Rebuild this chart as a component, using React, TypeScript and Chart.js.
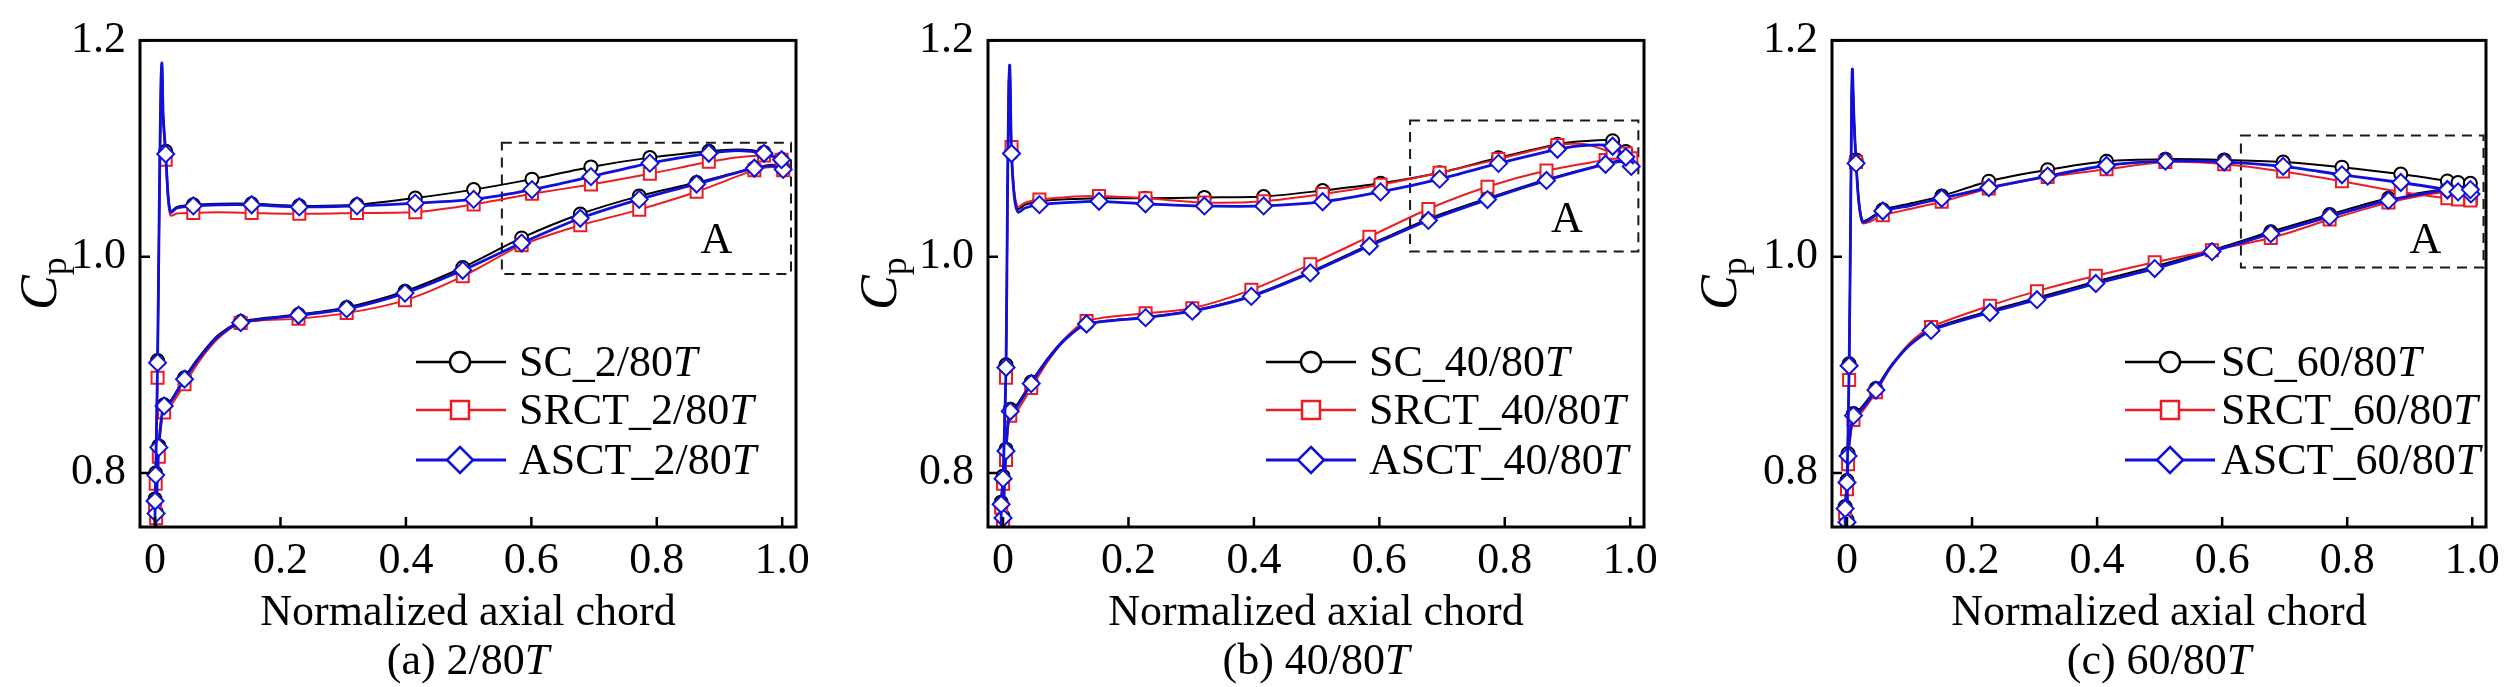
import React, { useEffect, useRef } from 'react';
import { Chart, registerables } from 'chart.js';

Chart.register(...registerables);

const SERIF = "'Liberation Serif', 'Times New Roman', serif";

// ---------- axes ----------
const X_TICKS = [0, 0.2, 0.4, 0.6, 0.8, 1.0];
const X_TICK_LABELS = ['0', '0.2', '0.4', '0.6', '0.8', '1.0'];
const Y_TICKS = [0.8, 1.0, 1.2];
const Y_TICK_LABELS = ['0.8', '1.0', '1.2'];
const X_RANGE = [-0.024, 1.022];
const Y_RANGE = [0.75, 1.2];
const X_TITLE = 'Normalized axial chord';
const Y_TITLE_MAIN = 'C';
const Y_TITLE_SUB = 'p';

// ---------- series ----------
const SERIES_NAMES = ['SC', 'SRCT', 'ASCT'];
const SERIES_COLORS = ['#000000', '#ec1c24', '#1010dd'];

// ---------- panel (a) 2/80T ----------
const A_LABEL = '2/80';
const A_UP_X = [0.0, 0.0, 0.001, 0.004, 0.007, 0.0095, 0.011, 0.013, 0.017, 0.021, 0.025, 0.035, 0.061, 0.1, 0.154, 0.23, 0.322, 0.415, 0.508, 0.601, 0.695, 0.789, 0.883, 0.93, 0.971, 0.999, 1.008];
const A_UP_MK = [0, 1, 1, 1, 0, 0, 0, 0, 1, 0, 0, 0, 1, 0, 1, 1, 1, 1, 1, 1, 1, 1, 1, 0, 1, 1, 0];
const A_UP_SC = [0.72, 0.776, 0.8, 0.904, 1.06, 1.165, 1.179, 1.13, 1.0975, 1.056, 1.042, 1.046, 1.048, 1.049, 1.049, 1.047, 1.048, 1.0542, 1.062, 1.0717, 1.083, 1.0916, 1.0975, 1.099, 1.0964, 1.09, 1.087];
const A_UP_SRCT = [0.72, 0.77, 0.79, 0.888, 1.05, 1.16, 1.176, 1.125, 1.0897, 1.05, 1.038, 1.04, 1.0404, 1.041, 1.0404, 1.0396, 1.0404, 1.0412, 1.0483, 1.0581, 1.0668, 1.0766, 1.0877, 1.092, 1.0936, 1.0897, 1.086];
const A_UP_ASCT = [0.72, 0.774, 0.798, 0.902, 1.06, 1.165, 1.179, 1.13, 1.095, 1.055, 1.041, 1.045, 1.047, 1.048, 1.048, 1.046, 1.047, 1.0495, 1.053, 1.062, 1.074, 1.0865, 1.0956, 1.098, 1.0956, 1.0897, 1.086];
const A_LO_X = [0.0, 0.0017, 0.006, 0.01, 0.0145, 0.025, 0.047, 0.07, 0.1, 0.1365, 0.2287, 0.3055, 0.3985, 0.4906, 0.5845, 0.678, 0.772, 0.8635, 0.9556, 0.985, 1.0016, 1.008];
const A_LO_MK = [0, 1, 1, 0, 1, 0, 1, 0, 0, 1, 1, 1, 1, 1, 1, 1, 1, 1, 1, 0, 1, 0];
const A_LO_SC = [0.72, 0.764, 0.825, 0.851, 0.863, 0.867, 0.888, 0.907, 0.927, 0.94, 0.9465, 0.953, 0.968, 0.99, 1.0173, 1.0394, 1.056, 1.0685, 1.082, 1.085, 1.081, 1.087];
const A_LO_SRCT = [0.72, 0.758, 0.815, 0.845, 0.856, 0.862, 0.882, 0.903, 0.924, 0.9387, 0.9427, 0.9478, 0.9596, 0.9818, 1.0106, 1.029, 1.0435, 1.06, 1.08, 1.083, 1.08, 1.086];
const A_LO_ASCT = [0.72, 0.7626, 0.8236, 0.85, 0.862, 0.866, 0.8867, 0.906, 0.926, 0.939, 0.9458, 0.9517, 0.9663, 0.9874, 1.0126, 1.0355, 1.053, 1.0672, 1.0818, 1.084, 1.0807, 1.086];
const A_BOX = [0.553, 1.014, 0.984, 1.1054];
const A_BOX_LABEL_AT = [0.895, 1.014];

// ---------- panel (b) 40/80T ----------
const B_LABEL = '40/80';
const B_UP_X = [-0.002, -0.003, 0.0, 0.0047, 0.007, 0.0092, 0.0107, 0.012, 0.0135, 0.018, 0.024, 0.035, 0.058, 0.1, 0.153, 0.227, 0.321, 0.4155, 0.5096, 0.602, 0.696, 0.79, 0.884, 0.93, 0.972, 0.993, 1.006];
const B_UP_MK = [0, 1, 1, 1, 0, 0, 0, 0, 1, 0, 0, 0, 1, 0, 1, 1, 1, 1, 1, 1, 1, 1, 1, 0, 1, 1, 0];
const B_UP_SC = [0.72, 0.773, 0.797, 0.9, 1.05, 1.16, 1.177, 1.14, 1.096, 1.057, 1.044, 1.048, 1.0512, 1.053, 1.054, 1.054, 1.0548, 1.0556, 1.0611, 1.0678, 1.0776, 1.0914, 1.104, 1.107, 1.1072, 1.0973, 1.088];
const B_UP_SRCT = [0.72, 0.768, 0.79, 0.888, 1.05, 1.16, 1.177, 1.145, 1.1013, 1.06, 1.046, 1.05, 1.0528, 1.055, 1.056, 1.054, 1.05, 1.0512, 1.0579, 1.0666, 1.0776, 1.0902, 1.1033, 1.104, 1.0962, 1.0954, 1.09];
const B_UP_ASCT = [0.72, 0.771, 0.7947, 0.8975, 1.05, 1.16, 1.177, 1.14, 1.0954, 1.055, 1.041, 1.045, 1.0481, 1.05, 1.0512, 1.0489, 1.0469, 1.0469, 1.0508, 1.0599, 1.0717, 1.0863, 1.0993, 1.103, 1.1021, 1.0922, 1.086];
const B_LO_X = [-0.002, 0.0, 0.0047, 0.008, 0.0115, 0.022, 0.0449, 0.07, 0.1, 0.1331, 0.2273, 0.3018, 0.3959, 0.49, 0.5841, 0.6782, 0.7724, 0.8665, 0.9607, 0.985, 1.0017, 1.006];
const B_LO_MK = [0, 1, 1, 0, 1, 0, 1, 0, 0, 1, 1, 1, 1, 1, 1, 1, 1, 1, 1, 0, 1, 0];
const B_LO_SC = [0.72, 0.76, 0.822, 0.848, 0.859, 0.863, 0.884, 0.905, 0.925, 0.938, 0.944, 0.95, 0.964, 0.986, 1.011, 1.035, 1.054, 1.0715, 1.086, 1.089, 1.085, 1.088];
const B_LO_SRCT = [0.72, 0.752, 0.812, 0.842, 0.853, 0.857, 0.8786, 0.902, 0.925, 0.9405, 0.9476, 0.9523, 0.9693, 0.9929, 1.0185, 1.0441, 1.0646, 1.0796, 1.0895, 1.092, 1.091, 1.09];
const B_LO_ASCT = [0.72, 0.7584, 0.8203, 0.846, 0.857, 0.861, 0.8826, 0.904, 0.924, 0.9377, 0.9436, 0.9496, 0.9633, 0.985, 1.0099, 1.0335, 1.0528, 1.0705, 1.0855, 1.088, 1.0835, 1.086];
const B_BOX = [0.649, 1.013, 1.0048, 1.126];
const B_BOX_LABEL_AT = [0.899, 1.0335];

// ---------- panel (c) 60/80T ----------
const C_LABEL = '60/80';
const C_UP_X = [-0.002, -0.003, 0.0, 0.0034, 0.006, 0.0075, 0.0086, 0.011, 0.0145, 0.019, 0.0248, 0.035, 0.0573, 0.1, 0.1515, 0.2268, 0.3209, 0.4151, 0.5092, 0.6033, 0.6975, 0.7916, 0.8857, 0.9602, 0.9773, 0.997, 1.007];
const C_UP_MK = [0, 1, 1, 1, 0, 0, 0, 0, 1, 0, 0, 0, 1, 0, 1, 1, 1, 1, 1, 1, 1, 1, 1, 1, 1, 1, 0];
const C_UP_SC = [0.72, 0.769, 0.793, 0.901, 1.05, 1.15, 1.1734, 1.13, 1.0895, 1.052, 1.033, 1.035, 1.0433, 1.049, 1.056, 1.0698, 1.0804, 1.0883, 1.0902, 1.0895, 1.0875, 1.0828, 1.0764, 1.07, 1.0686, 1.0678, 1.064];
const C_UP_SRCT = [0.72, 0.763, 0.785, 0.886, 1.045, 1.145, 1.17, 1.125, 1.0875, 1.048, 1.031, 1.032, 1.0382, 1.044, 1.0508, 1.0631, 1.0737, 1.0808, 1.0875, 1.0855, 1.0788, 1.0698, 1.0599, 1.054, 1.0528, 1.052, 1.056];
const C_UP_ASCT = [0.72, 0.767, 0.7911, 0.8991, 1.05, 1.15, 1.1734, 1.13, 1.0863, 1.05, 1.0323, 1.034, 1.0422, 1.047, 1.054, 1.0638, 1.0745, 1.0843, 1.0883, 1.0875, 1.0835, 1.0757, 1.0686, 1.0619, 1.0599, 1.062, 1.06];
const C_LO_X = [-0.002, 0.0, 0.0017, 0.006, 0.0103, 0.022, 0.0462, 0.07, 0.1, 0.1344, 0.2285, 0.3038, 0.3979, 0.4921, 0.5837, 0.6778, 0.7719, 0.8661, 0.9602, 0.985, 0.998, 1.007];
const C_LO_MK = [0, 1, 1, 0, 1, 0, 1, 0, 0, 1, 1, 1, 1, 1, 1, 1, 1, 1, 1, 0, 1, 0];
const C_LO_SC = [0.72, 0.757, 0.818, 0.842, 0.855, 0.86, 0.878, 0.899, 0.919, 0.933, 0.95, 0.962, 0.977, 0.991, 1.006, 1.023, 1.039, 1.054, 1.063, 1.065, 1.062, 1.064];
const C_LO_SRCT = [0.72, 0.749, 0.808, 0.836, 0.849, 0.855, 0.8747, 0.898, 0.92, 0.935, 0.9547, 0.9681, 0.9823, 0.9949, 1.0059, 1.0173, 1.0343, 1.05, 1.06, 1.058, 1.054, 1.056];
const C_LO_ASCT = [0.72, 0.7545, 0.8156, 0.84, 0.853, 0.858, 0.8766, 0.898, 0.918, 0.9318, 0.9484, 0.9602, 0.9752, 0.989, 1.0047, 1.0213, 1.037, 1.052, 1.0619, 1.063, 1.058, 1.06];
const C_BOX = [0.63, 1.018, 0.99, 1.112];
const C_BOX_LABEL_AT = [0.925, 1.014];

// ---------- styles / layout ----------
const POINT_STYLES = ['circle', 'rect', 'rectRot'];
const POINT_RADII = [6.5, 8.5, 8.5];
const LINE_WIDTHS = [2, 2, 2.8];
const TICK_FONT = 44;
const TEXT_FONT = 44;
const CANVAS_W = 840;
const CANVAS_H = 687;
const PLOT_TOP = 24;
const PLOT_BOTTOM = 527;

const PANELS = [
  {
    tag: '(a)', label: A_LABEL, left: 140, right: 44,
    legend: { lineX0: 416, lineX1: 506, markX: 460, textX: 519, rows: [362, 410, 460] },
    up: { x: A_UP_X, mk: A_UP_MK, y: [A_UP_SC, A_UP_SRCT, A_UP_ASCT] },
    lo: { x: A_LO_X, mk: A_LO_MK, y: [A_LO_SC, A_LO_SRCT, A_LO_ASCT] },
    box: A_BOX, boxLabel: A_BOX_LABEL_AT,
  },
  {
    tag: '(b)', label: B_LABEL, left: 148, right: 36,
    legend: { lineX0: 426, lineX1: 516, markX: 471, textX: 529, rows: [362, 410, 460] },
    up: { x: B_UP_X, mk: B_UP_MK, y: [B_UP_SC, B_UP_SRCT, B_UP_ASCT] },
    lo: { x: B_LO_X, mk: B_LO_MK, y: [B_LO_SC, B_LO_SRCT, B_LO_ASCT] },
    box: B_BOX, boxLabel: B_BOX_LABEL_AT,
  },
  {
    tag: '(c)', label: C_LABEL, left: 152, right: 34,
    legend: { lineX0: 445, lineX1: 535, markX: 490, textX: 541, rows: [362, 410, 460] },
    up: { x: C_UP_X, mk: C_UP_MK, y: [C_UP_SC, C_UP_SRCT, C_UP_ASCT] },
    lo: { x: C_LO_X, mk: C_LO_MK, y: [C_LO_SC, C_LO_SRCT, C_LO_ASCT] },
    box: C_BOX, boxLabel: C_BOX_LABEL_AT,
  },
];

function drawMarker(ctx: CanvasRenderingContext2D, style: string, x: number, y: number, size: number, color: string) {
  ctx.save();
  ctx.fillStyle = '#ffffff';
  ctx.strokeStyle = color;
  ctx.lineWidth = 2.5;
  ctx.beginPath();
  if (style === 'circle') {
    ctx.arc(x, y, size, 0, Math.PI * 2);
  } else if (style === 'rect') {
    ctx.rect(x - size, y - size, size * 2, size * 2);
  } else {
    ctx.moveTo(x, y - size);
    ctx.lineTo(x + size, y);
    ctx.lineTo(x, y + size);
    ctx.lineTo(x - size, y);
    ctx.closePath();
  }
  ctx.fill();
  ctx.stroke();
  ctx.restore();
}

function drawMixed(ctx: CanvasRenderingContext2D, parts: [string, boolean][], x: number, y: number, size: number, align: 'left' | 'center') {
  ctx.save();
  ctx.fillStyle = '#000';
  ctx.textBaseline = 'alphabetic';
  ctx.textAlign = 'left';
  const widths = parts.map(([t, it]) => {
    ctx.font = `${it ? 'italic ' : ''}${size}px ${SERIF}`;
    return ctx.measureText(t).width;
  });
  const total = widths.reduce((a, b) => a + b, 0);
  let cx = align === 'center' ? x - total / 2 : x;
  parts.forEach(([t, it], i) => {
    ctx.font = `${it ? 'italic ' : ''}${size}px ${SERIF}`;
    ctx.fillText(t, cx, y);
    cx += widths[i];
  });
  ctx.restore();
}

function Panel({ cfg }: { cfg: any }) {
  const ref = useRef<HTMLCanvasElement>(null);
  useEffect(() => {
    if (!ref.current) return;
    const datasets: any[] = [];
    [2, 1, 0].forEach((s) => {
      [cfg.up, cfg.lo].forEach((br: any) => {
        datasets.push({
          data: br.x.map((x: number, i: number) => ({ x, y: br.y[s][i] })),
          showLine: true,
          borderColor: SERIES_COLORS[s],
          borderWidth: LINE_WIDTHS[s],
          tension: 0.25,
          pointStyle: POINT_STYLES[s],
          pointRadius: br.mk.map((m: number) => (m ? POINT_RADII[s] : 0)),
          pointHoverRadius: 0,
          pointHitRadius: 0,
          pointBackgroundColor: '#ffffff',
          pointBorderColor: SERIES_COLORS[s],
          pointBorderWidth: 2,
          fill: false,
        });
      });
    });

    const decor = {
      id: 'decor',
      beforeDatasetsDraw(chart: any) {
        const { ctx, scales } = chart;
        const xs = scales.x, ys = scales.y;
        const [bx0, bx1, by0, by1] = cfg.box;
        const l = xs.getPixelForValue(bx0), r = xs.getPixelForValue(bx1);
        const t = ys.getPixelForValue(by1), b = ys.getPixelForValue(by0);
        ctx.save();
        ctx.strokeStyle = '#1a1a1a';
        ctx.lineWidth = 2;
        ctx.setLineDash([10, 7]);
        ctx.strokeRect(l, t, r - l, b - t);
        ctx.restore();
        ctx.save();
        ctx.fillStyle = '#000';
        ctx.font = `${TEXT_FONT}px ${SERIF}`;
        ctx.textAlign = 'center';
        ctx.textBaseline = 'middle';
        ctx.fillText('A', xs.getPixelForValue(cfg.boxLabel[0]), ys.getPixelForValue(cfg.boxLabel[1]));
        ctx.restore();
      },
      afterDatasetsDraw(chart: any) {
        const { ctx, chartArea, scales } = chart;
        const xs = scales.x, ys = scales.y;
        ctx.save();
        ctx.strokeStyle = '#000';
        ctx.lineWidth = 3;
        ctx.strokeRect(chartArea.left, chartArea.top, chartArea.right - chartArea.left, chartArea.bottom - chartArea.top);
        ctx.lineWidth = 2.5;
        ctx.beginPath();
        X_TICKS.forEach((v) => {
          const px = xs.getPixelForValue(v);
          ctx.moveTo(px, chartArea.bottom);
          ctx.lineTo(px, chartArea.bottom - 10);
        });
        Y_TICKS.forEach((v) => {
          const py = ys.getPixelForValue(v);
          ctx.moveTo(chartArea.left, py);
          ctx.lineTo(chartArea.left + 10, py);
        });
        ctx.stroke();
        ctx.restore();

        const cx = (chartArea.left + chartArea.right) / 2;
        drawMixed(ctx, [[X_TITLE, false]], cx, 625, TEXT_FONT, 'center');
        drawMixed(ctx, [[`${cfg.tag} ${cfg.label}`, false], ['T', true]], cx, 674, TEXT_FONT, 'center');

        ctx.save();
        const cy = (chartArea.top + chartArea.bottom) / 2;
        ctx.translate(56, cy);
        ctx.rotate(-Math.PI / 2);
        ctx.fillStyle = '#000';
        ctx.textBaseline = 'alphabetic';
        ctx.font = `italic 52px ${SERIF}`;
        const wC = ctx.measureText(Y_TITLE_MAIN).width;
        ctx.font = `36px ${SERIF}`;
        const wP = ctx.measureText(Y_TITLE_SUB).width;
        const start = -(wC + wP) / 2;
        ctx.font = `italic 52px ${SERIF}`;
        ctx.fillText(Y_TITLE_MAIN, start, 0);
        ctx.font = `36px ${SERIF}`;
        ctx.fillText(Y_TITLE_SUB, start + wC, 10);
        ctx.restore();

        const lg = cfg.legend;
        const legendSizes = [10, 9, 13];
        SERIES_NAMES.forEach((name, s) => {
          const y = lg.rows[s];
          ctx.save();
          ctx.strokeStyle = SERIES_COLORS[s];
          ctx.lineWidth = s === 2 ? 3.2 : 2.5;
          ctx.beginPath();
          ctx.moveTo(lg.lineX0, y);
          ctx.lineTo(lg.lineX1, y);
          ctx.stroke();
          ctx.restore();
          drawMarker(ctx, POINT_STYLES[s], lg.markX, y, legendSizes[s], SERIES_COLORS[s]);
          drawMixed(ctx, [[`${name}_${cfg.label}`, false], ['T', true]], lg.textX, y + 14, TEXT_FONT, 'left');
        });
      },
    };

    const chart = new Chart(ref.current, {
      type: 'scatter',
      data: { datasets },
      options: {
        animation: false,
        responsive: false,
        devicePixelRatio: 1,
        events: [],
        layout: { padding: { left: 0, right: cfg.right, top: PLOT_TOP, bottom: 0 } },
        plugins: { legend: { display: false }, tooltip: { enabled: false }, title: { display: false } },
        scales: {
          x: {
            type: 'linear',
            min: X_RANGE[0],
            max: X_RANGE[1],
            grid: { display: false, drawTicks: false },
            border: { display: false },
            afterBuildTicks: (scale: any) => { scale.ticks = X_TICKS.map((v) => ({ value: v })); },
            afterFit: (scale: any) => { scale.height = CANVAS_H - PLOT_BOTTOM; },
            ticks: {
              autoSkip: false,
              maxRotation: 0,
              padding: 8,
              color: '#000',
              font: { family: SERIF, size: TICK_FONT },
              callback: (_v: any, i: number) => X_TICK_LABELS[i],
            },
          },
          y: {
            type: 'linear',
            min: Y_RANGE[0],
            max: Y_RANGE[1],
            grid: { display: false, drawTicks: false },
            border: { display: false },
            afterBuildTicks: (scale: any) => { scale.ticks = Y_TICKS.map((v) => ({ value: v })); },
            afterFit: (scale: any) => { scale.width = cfg.left; },
            ticks: {
              autoSkip: false,
              padding: 14,
              color: '#000',
              font: { family: SERIF, size: TICK_FONT },
              callback: (_v: any, i: number) => Y_TICK_LABELS[i],
            },
          },
        },
      },
      plugins: [decor],
    } as any);
    return () => chart.destroy();
  }, [cfg]);
  return <canvas ref={ref} width={CANVAS_W} height={CANVAS_H} style={{ display: 'block', width: CANVAS_W, height: CANVAS_H }} />;
}

export default function App() {
  return (
    <div style={{ position: 'absolute', left: 0, top: 0, width: CANVAS_W * 3, height: CANVAS_H, display: 'flex', background: '#ffffff' }}>
      {PANELS.map((p) => (
        <Panel key={p.tag} cfg={p} />
      ))}
    </div>
  );
}
